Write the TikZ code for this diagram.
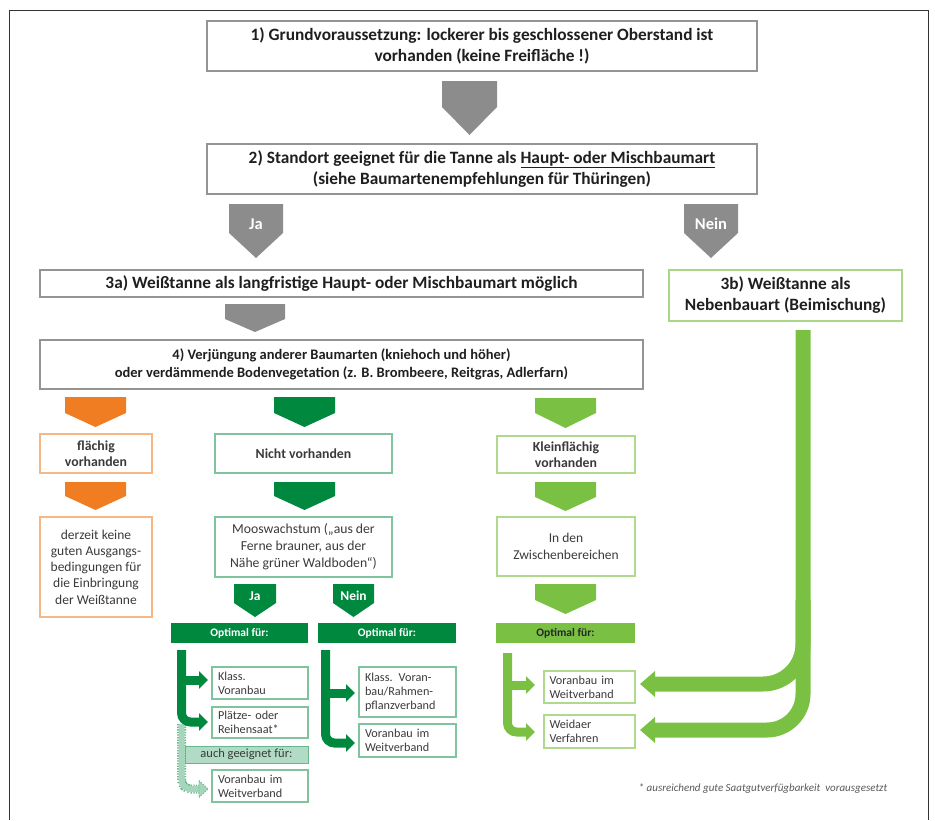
\documentclass[tikz,border=0pt]{standalone}
\usepackage{fontspec}
\setmainfont{Carlito}
\usetikzlibrary{arrows.meta}
\definecolor{dkg}{HTML}{00883F}
\definecolor{ltg}{HTML}{7AC143}
\definecolor{org}{HTML}{F07D22}
\definecolor{grayarr}{HTML}{8C8C8C}
\definecolor{txt}{HTML}{3A3A3A}
\definecolor{frame}{HTML}{333333}
\newcommand\bx[7][]{\node[#1, minimum width={#5pt-#3pt}, minimum height={#6pt-#4pt}] (#2) at ({(#3+#5)/2},{(#4+#6)/2}) {#7};}
\newcommand\chev[6]{\fill[#6] (#1,#3) -- (#2,#3) -- (#2,#4) -- ({(#1+#2)/2},#5) -- (#1,#4) -- cycle;}
\begin{document}
\begin{tikzpicture}[x=1pt,y=-1pt,
  graybox/.style={draw=black!42, line width=1.4pt, fill=white, inner sep=0pt, align=center, text=black!88, font=\fontsize{17.3}{21}\selectfont\bfseries},
  orgbox/.style={draw=org!55, line width=1.4pt, inner sep=0pt, align=center, text=txt},
  dkbox/.style={draw=dkg!50, line width=1.4pt, inner sep=0pt, align=center, text=txt},
  ltbox/.style={draw=ltg!60, line width=1.4pt, inner sep=0pt, align=center, text=txt},
  smallbox/.style={inner sep=0pt, align=left, text=txt, font=\fontsize{12.2}{14}\selectfont},
  optbar/.style={inner sep=0pt, text=white, font=\fontsize{11.5}{12}\selectfont\bfseries},
  trunk/.style={line width=9pt, -{Triangle[width=17pt,length=9pt]}, rounded corners=9pt},
  big/.style={ltg, line width=15pt, -{Triangle[width=25pt,length=15pt]}, rounded corners=40pt},
  lab/.style={inner sep=0pt, text=white}
]
\useasboundingbox (0,0) rectangle (935,820);
% frame
\draw[frame, line width=1pt] (9,820) -- (9,10) -- (928,10) -- (928,820);

% top boxes
\bx[graybox]{b1}{207}{21}{757}{71}{1) Grundvoraussetzung: lockerer bis geschlossener Oberstand ist\\vorhanden (keine Freifläche !)}
\chev{442}{497}{81}{107}{135}{grayarr}
\bx[graybox]{b2}{207}{144}{757}{194}{2) Standort geeignet für die Tanne als \underline{Haupt- oder Mischbaumart}\\(siehe Baumartenempfehlungen für Thüringen)}
\chev{229}{283}{204}{233}{258}{grayarr}
\node[lab, font=\fontsize{16.5}{16.5}\selectfont\bfseries] (ja1) at (256,224) {Ja};
\chev{684}{738}{204}{233}{258}{grayarr}
\node[lab, font=\fontsize{16.5}{16.5}\selectfont\bfseries] (nein1) at (711,224) {Nein};
\bx[graybox]{b3a}{40}{270}{643}{297}{3a) Weißtanne als langfristige Haupt- oder Mischbaumart möglich}
\bx[graybox, draw=ltg!65]{b3b}{669}{270}{902}{321}{3b) Weißtanne als\\Nebenbauart (Beimischung)}
\chev{225}{285}{304}{319}{332}{grayarr}
\bx[graybox, font=\fontsize{14.5}{18}\selectfont\bfseries]{b4}{40}{340}{643}{389}{4) Verjüngung anderer Baumarten (kniehoch und höher)\\oder verdämmende Bodenvegetation (z. B. Brombeere, Reitgras, Adlerfarn)}

% orange column
\chev{65}{126}{397}{413}{427}{org}
\bx[orgbox, font=\fontsize{13.8}{16.5}\selectfont\bfseries]{o1}{40}{434}{152}{473}{flächig\\vorhanden}
\chev{65}{126}{482}{496}{510}{org}
\bx[orgbox, font=\fontsize{13.5}{16.3}\selectfont]{o2}{40}{517}{152}{617}{derzeit keine\\guten Ausgangs-\\bedingungen für\\die Einbringung\\der Weißtanne}

% dark green column
\chev{274}{335}{397}{413}{427}{dkg}
\bx[dkbox, font=\fontsize{13.8}{16.5}\selectfont\bfseries]{d1}{215}{434}{392}{473}{Nicht vorhanden}
\chev{274}{335}{482}{496}{510}{dkg}
\bx[dkbox, font=\fontsize{13.7}{17}\selectfont]{d2}{215}{517}{392}{577}{Mooswachstum („aus der\\Ferne brauner, aus der\\Nähe grüner Waldboden“)}
\chev{234}{276}{584}{603}{617}{dkg}
\node[lab, font=\fontsize{13.5}{13.5}\selectfont\bfseries] (ja2) at (255,596) {Ja};
\chev{333}{374}{584}{603}{617}{dkg}
\node[lab, font=\fontsize{13.5}{13.5}\selectfont\bfseries] (nein2) at (353.5,596) {Nein};
\bx[optbar, fill=dkg]{oj}{171}{623}{308}{643}{Optimal für:}
\bx[optbar, fill=dkg]{on}{318}{623}{456}{643}{Optimal für:}

% Ja branch
\draw[dkg!60, line width=9pt, dash pattern=on 1.3pt off 1.3pt, rounded corners=9pt] (181.5,724) |- (199.5,789);
\draw[dkg!35, line width=6pt, rounded corners=9pt] (181.5,724) |- (200,789);
\filldraw[fill=dkg!35, draw=dkg!60, line width=0.8pt, dash pattern=on 1.3pt off 1.3pt] (199,780.5) -- (208,789) -- (199,797.5) -- cycle;
\draw[trunk, dkg] (181.5,650) |- (208,722);
\draw[trunk, dkg, rounded corners=0pt] (181.5,680) -- (208,680);
\bx[dkbox, smallbox, text width=84pt]{s1}{212}{667}{308}{699}{Klass.\\Voranbau}
\bx[dkbox, smallbox, text width=84pt]{s2}{212}{707}{308}{738}{Plätze- oder\\Reihensaat*}
\bx[draw=dkg!60, fill=dkg!30, line width=1pt, inner sep=0pt, text=txt, font=\fontsize{12.5}{13}\selectfont]{ag}{185}{746}{308}{763}{auch geeignet für:}
\bx[dkbox, smallbox, text width=84pt]{s3}{212}{770}{308}{802}{Voranbau im\\Weitverband}

% Nein branch
\draw[trunk, dkg] (325.5,650) |- (355,743);
\draw[trunk, dkg, rounded corners=0pt] (325.5,693) -- (355,693);
\bx[dkbox, smallbox, text width=85pt]{s4}{359}{667}{456}{717}{Klass. Voran-\\bau/Rahmen-\\pflanzverband}
\bx[dkbox, smallbox, text width=85pt]{s5}{359}{724}{456}{757}{Voranbau im\\Weitverband}

% light green column
\chev{535}{596}{398}{413}{428}{ltg}
\bx[ltbox, font=\fontsize{13.8}{16.5}\selectfont\bfseries]{l1}{497}{436}{635}{473}{Kleinflächig\\vorhanden}
\chev{535}{596}{482}{497}{511}{ltg}
\bx[ltbox, font=\fontsize{13.5}{16.5}\selectfont]{l2}{497}{517}{635}{576}{In den\\Zwischenbereichen}
\chev{535}{596}{584}{600}{614}{ltg}
\bx[optbar, fill=ltg, text=black!85]{ol}{496}{623}{635}{643}{Optimal für:}
\draw[trunk, ltg] (507.5,653) |- (535,732);
\draw[trunk, ltg, rounded corners=0pt] (507.5,685) -- (535,685);
\bx[ltbox, smallbox, text width=80pt]{s6}{544}{671}{635}{703}{Voranbau im\\Weitverband}
\bx[ltbox, smallbox, text width=80pt]{s7}{544}{715}{635}{748}{Weidaer\\Verfahren}

% big arrows from 3b
\draw[big] (803,330) |- (640,684);
\draw[big, rounded corners=36pt] (803,600) |- (640,730);

% footnote
\node[inner sep=0pt, text=black!65, font=\fontsize{11}{12}\selectfont\itshape] (fn) at (763,789) {* ausreichend gute Saatgutverfügbarkeit \ vorausgesetzt};
\end{tikzpicture}
\end{document}
